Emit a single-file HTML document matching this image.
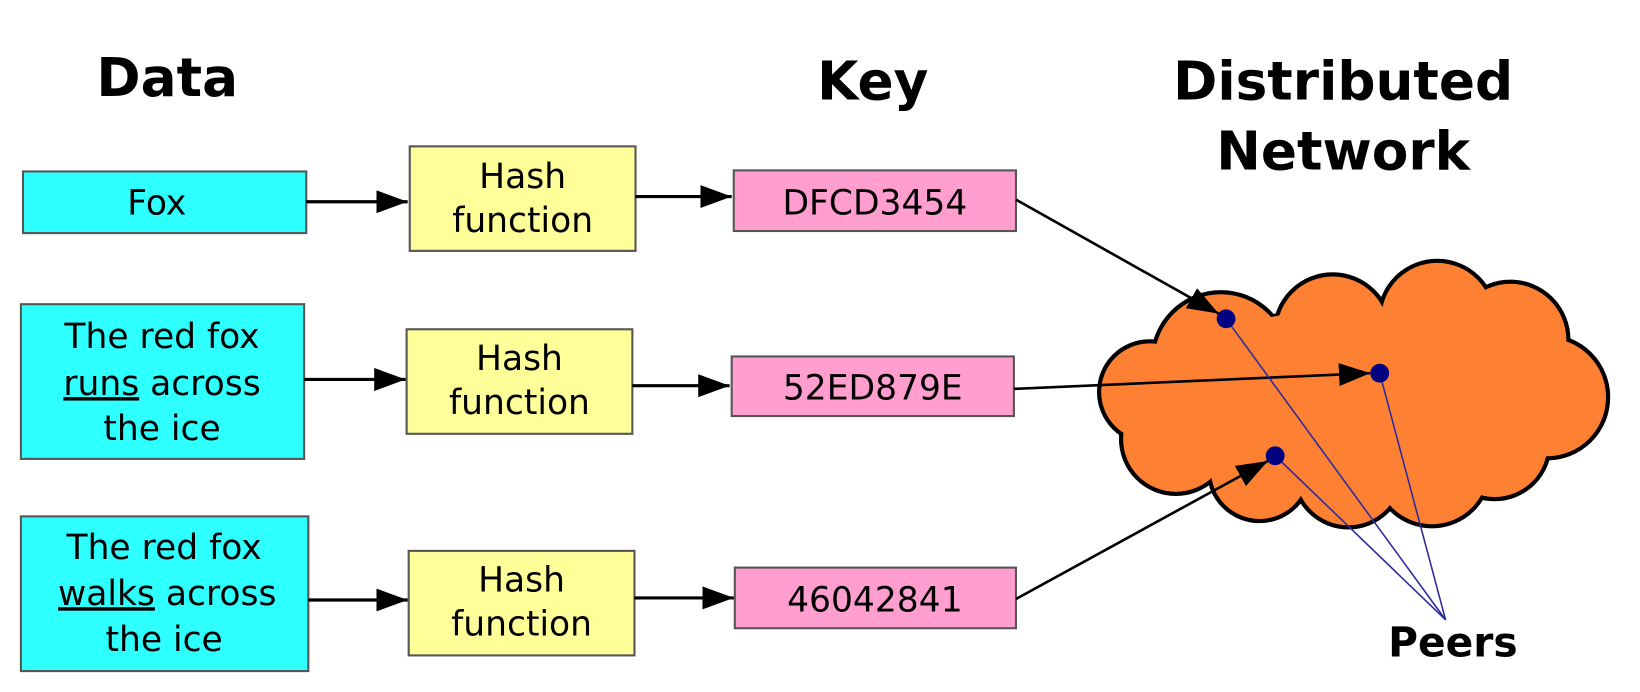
<!DOCTYPE html>
<html><head><style>html,body{margin:0;padding:0;background:#fff}svg{display:block}</style></head>
<body>
<svg width="1640" height="692" viewBox="0 0 1569 662" xmlns="http://www.w3.org/2000/svg" font-family="'DejaVu Sans','Liberation Sans',sans-serif">
<defs>
<marker id="b" markerWidth="30" markerHeight="22" refX="30" refY="11" orient="auto" markerUnits="userSpaceOnUse"><path d="M0,0 L30,11 L0,22z" fill="#000"/></marker>
</defs>
<g font-weight="bold" font-size="51" text-anchor="middle" fill="#000">
<text x="160" y="92">Data</text>
<text x="835" y="95">Key</text>
<text x="1285" y="95">Distributed</text>
<text x="1285" y="162">Network</text>
</g>
<!-- cloud -->
<g stroke="#000" stroke-width="5" fill="#fd8033">
<ellipse cx="1300" cy="385" rx="200" ry="90"/>
<circle cx="1168" cy="345" r="65"/><circle cx="1275" cy="318" r="55"/><circle cx="1375" cy="305" r="55"/><circle cx="1445" cy="325" r="55"/><circle cx="1480" cy="380" r="58"/><circle cx="1430" cy="425" r="52"/><circle cx="1370" cy="448" r="55"/><circle cx="1290" cy="452" r="52"/><circle cx="1205" cy="450" r="48"/><circle cx="1125" cy="420" r="52"/><circle cx="1100" cy="375" r="48"/>
</g>
<g fill="#fd8033">
<ellipse cx="1300" cy="385" rx="200" ry="90"/>
<circle cx="1168" cy="345" r="63.5"/><circle cx="1275" cy="318" r="53.5"/><circle cx="1375" cy="305" r="53.5"/><circle cx="1445" cy="325" r="53.5"/><circle cx="1480" cy="380" r="56.5"/><circle cx="1430" cy="425" r="50.5"/><circle cx="1370" cy="448" r="53.5"/><circle cx="1290" cy="452" r="50.5"/><circle cx="1205" cy="450" r="46.5"/><circle cx="1125" cy="420" r="50.5"/><circle cx="1100" cy="375" r="46.5"/>
</g>
<g stroke-width="2">
<rect x="22" y="164" width="271" height="59" fill="#2effff" stroke="#555"/>
<rect x="20" y="291" width="271" height="148" fill="#2effff" stroke="#555"/>
<rect x="20" y="494" width="275" height="148" fill="#2effff" stroke="#555"/>
<rect x="392" y="140" width="216" height="100" fill="#ffff99" stroke="#555"/>
<rect x="389" y="315" width="216" height="100" fill="#ffff99" stroke="#555"/>
<rect x="391" y="527" width="216" height="100" fill="#ffff99" stroke="#555"/>
<rect x="702" y="163" width="270" height="58" fill="#ff9ecf" stroke="#555"/>
<rect x="700" y="341" width="270" height="57" fill="#ff9ecf" stroke="#555"/>
<rect x="703" y="543" width="269" height="58" fill="#ff9ecf" stroke="#555"/>
</g>
<g font-size="33" text-anchor="middle" fill="#000">
<text x="150" y="205">Fox</text>
<text x="155" y="333">The red fox</text>
<text x="155" y="378"><tspan text-decoration="underline">runs</tspan> across</text>
<text x="155" y="421">the ice</text>
<text x="157" y="535">The red fox</text>
<text x="160" y="579"><tspan text-decoration="underline">walks</tspan> across</text>
<text x="157" y="623">the ice</text>
<text x="500" y="180">Hash</text><text x="500" y="222">function</text>
<text x="497" y="354">Hash</text><text x="497" y="396">function</text>
<text x="499" y="566">Hash</text><text x="499" y="608">function</text>
<text x="837" y="205">DFCD3454</text>
<text x="835" y="382">52ED879E</text>
<text x="837" y="585">46042841</text>
</g>
<g stroke="#000" stroke-width="3" marker-end="url(#b)">
<line x1="293" y1="193" x2="390" y2="193"/>
<line x1="608" y1="188" x2="700" y2="188"/>
<line x1="291" y1="363" x2="388" y2="363"/>
<line x1="605" y1="369" x2="698" y2="369"/>
<line x1="295" y1="574" x2="390" y2="574"/>
<line x1="607" y1="572" x2="702" y2="572"/>
</g>
<g stroke="#000" stroke-width="2.5" marker-end="url(#b)">
<line x1="972" y1="191" x2="1166" y2="300"/>
<line x1="970" y1="372" x2="1311" y2="357"/>
<line x1="972" y1="573" x2="1213" y2="441"/>
</g>
<g stroke="#2b2b9e" stroke-width="1.5">
<line x1="1173" y1="305" x2="1383" y2="593"/>
<line x1="1320" y1="357" x2="1383" y2="593"/>
<line x1="1220" y1="436" x2="1383" y2="593"/>
</g>
<g fill="#000080"><circle cx="1173" cy="305" r="9"/><circle cx="1320" cy="357" r="9"/><circle cx="1220" cy="436" r="9"/></g>
<text x="1390" y="628" font-size="39" font-weight="bold" text-anchor="middle">Peers</text>
</svg>
</body></html>
